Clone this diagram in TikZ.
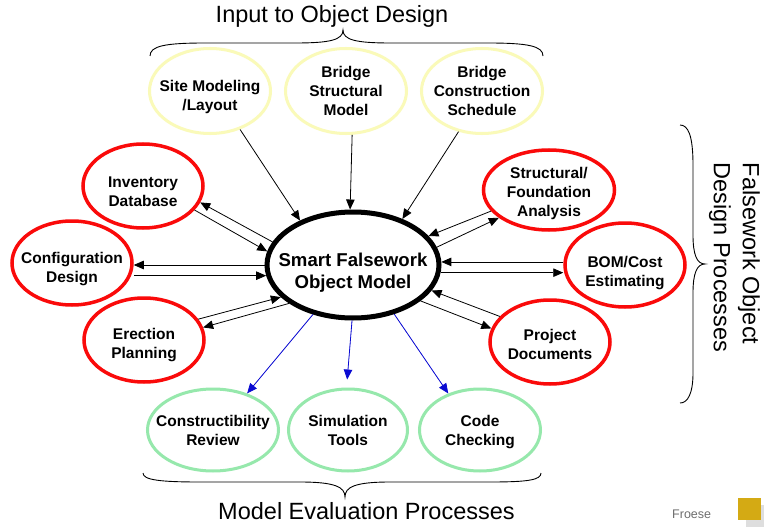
\documentclass[tikz,border=0pt]{standalone}
\usepackage{fontspec}
\setmainfont{Liberation Sans}
\usetikzlibrary{arrows.meta,shapes.geometric}

\definecolor{procred}{RGB}{250,10,10}
\definecolor{inyellow}{RGB}{250,250,185}
\definecolor{evgreen}{RGB}{150,232,172}
\definecolor{evblue}{RGB}{10,10,210}
\definecolor{logogold}{RGB}{212,170,20}
\definecolor{footgrey}{RGB}{110,110,110}

\begin{document}
\begin{tikzpicture}[x=1pt,y=-1pt,
  bubble/.style={ellipse, draw, inner sep=0pt, minimum width=120pt, minimum height=84pt},
  lbl/.style={align=center, font=\bfseries\fontsize{15.5}{19}\selectfont},
  inputbub/.style={bubble, draw=inyellow, line width=3pt, minimum width=121pt, minimum height=85pt},
  procbub/.style={bubble, draw=procred, line width=3.5pt},
  evalbub/.style={bubble, draw=evgreen, line width=3pt, minimum height=82pt},
  arr/.style={-{Triangle[length=10pt,width=8.5pt]}, line width=0.8pt},
  barr/.style={arr, draw=evblue, fill=evblue},
  heading/.style={font=\fontsize{23.5}{29}\selectfont},
  bracepath/.style={line width=0.9pt}]

\useasboundingbox (0,0) rectangle (764,527);
\fill[white] (0,0) rectangle (764,527);

% central object model
\node[ellipse, draw, line width=5pt, inner sep=0pt, minimum width=172pt, minimum height=106pt,
      label={[align=center, yshift=-8pt, font=\bfseries\fontsize{18.6}{22}\selectfont]center:Smart Falsework\\Object Model}]
      (model) at (353,265) {};

% inputs to object design
\node[inputbub, label={[lbl, yshift=-6pt]center:Site Modeling\\/Layout}] (site) at (210,91) {};
\node[inputbub, label={[lbl]center:Bridge\\Structural\\Model}] (bsm) at (346,91) {};
\node[inputbub, label={[lbl]center:Bridge\\Construction\\Schedule}] (bcs) at (482,91) {};

% design processes, left
\node[procbub, label={[lbl, yshift=-5.5pt]center:Inventory\\Database}] (inv) at (143,186) {};
\node[procbub, label={[lbl, yshift=-6pt]center:Configuration\\Design}] (cfg) at (72,263) {};
\node[procbub, label={[lbl, yshift=-5.5pt]center:Erection\\Planning}] (ere) at (144,340) {};

% design processes, right
\node[procbub, minimum width=131pt, minimum height=80pt,
      label={[lbl, yshift=-3pt]center:Structural/\\Foundation\\Analysis}] (str) at (549,190) {};
\node[procbub, label={[lbl, yshift=-8pt]center:BOM/Cost\\Estimating}] (bom) at (625,265) {};
\node[procbub, label={[lbl, yshift=-2.5pt]center:Project\\Documents}] (prj) at (550,342) {};

% evaluation processes
\node[evalbub, minimum width=131pt, label={[lbl]center:Constructibility\\Review}] (con) at (213,430) {};
\node[evalbub, minimum width=119pt, label={[lbl]center:Simulation\\Tools}] (sim) at (348,430) {};
\node[evalbub, minimum width=121pt, label={[lbl, yshift=-2.5pt]center:Code\\Checking}] (code) at (480,430) {};

% inputs flow into the model
\draw[arr] (site.-52) -- (model.140);
\draw[arr] (bsm.-82) -- (model.93);
\draw[arr] (bcs.-120) -- (model.43);

% two-way exchange with the design processes
\draw[arr] (model.164) -- (inv.-16);
\draw[arr] (inv.-25) -- (model.171);
\draw[arr] (model.180) -- (model.180 -| cfg.east);
\draw[arr] (model.187 -| cfg.east) -- (model.187);
\draw[arr] (ere.21) -- (model.204);
\draw[arr] (model.211) -- (ere.12);

\draw[arr] (str.200) -- (model.21);
\draw[arr] (model.12) -- (str.209);
\draw[arr] (model.2 -| bom.west) -- (model.2);
\draw[arr] (model.-5) -- (model.-5 -| bom.west);
\draw[arr] (prj.153) -- (model.-18);
\draw[arr] (model.-28) -- (prj.167);

% model feeds the evaluation processes
\draw[barr] (model.231) -- (con.47);
\draw[barr, shorten >=8pt] (model.269) -- (sim.92);
\draw[barr] (model.-50) -- (code.131);

% braces
\draw[bracepath] (150,56) .. controls (150,46) and (165,43) .. (205,43) -- (295,43)
  .. controls (330,43) and (343,40) .. (343,30)
  .. controls (343,40) and (356,43) .. (391,43) -- (488,43)
  .. controls (528,43) and (543,46) .. (543,56);
\draw[bracepath] (143,473) .. controls (143,480) and (160,482) .. (200,482) -- (300,482)
  .. controls (335,482) and (345,487) .. (345,497)
  .. controls (345,487) and (355,482) .. (390,482) -- (490,482)
  .. controls (528,482) and (541,480) .. (541,473);
\draw[bracepath] (680,125) .. controls (688,125) and (693,135) .. (693,165) -- (693,235)
  .. controls (693,255) and (697,264) .. (705,264)
  .. controls (697,264) and (693,273) .. (693,293) -- (693,373)
  .. controls (693,393) and (688,403) .. (680,403);

% group headings
\node[heading, anchor=base] (hin) at (332,22.5) {Input to Object Design};
\node[heading, anchor=base] (hev) at (366.5,519) {Model Evaluation Processes};
\node[heading, rotate=-90, align=left] (hdp) at (734.5,257.5) {Falsework Object\\Design Processes};

% footer
\node[anchor=base west, inner sep=0pt, text=footgrey, font=\fontsize{12.5}{15}\selectfont] (author) at (672,518) {Froese};
\fill[black!13] (746,505) rectangle (764,527);
\fill[logogold] (738,498) rectangle (761,520);

\end{tikzpicture}
\end{document}
